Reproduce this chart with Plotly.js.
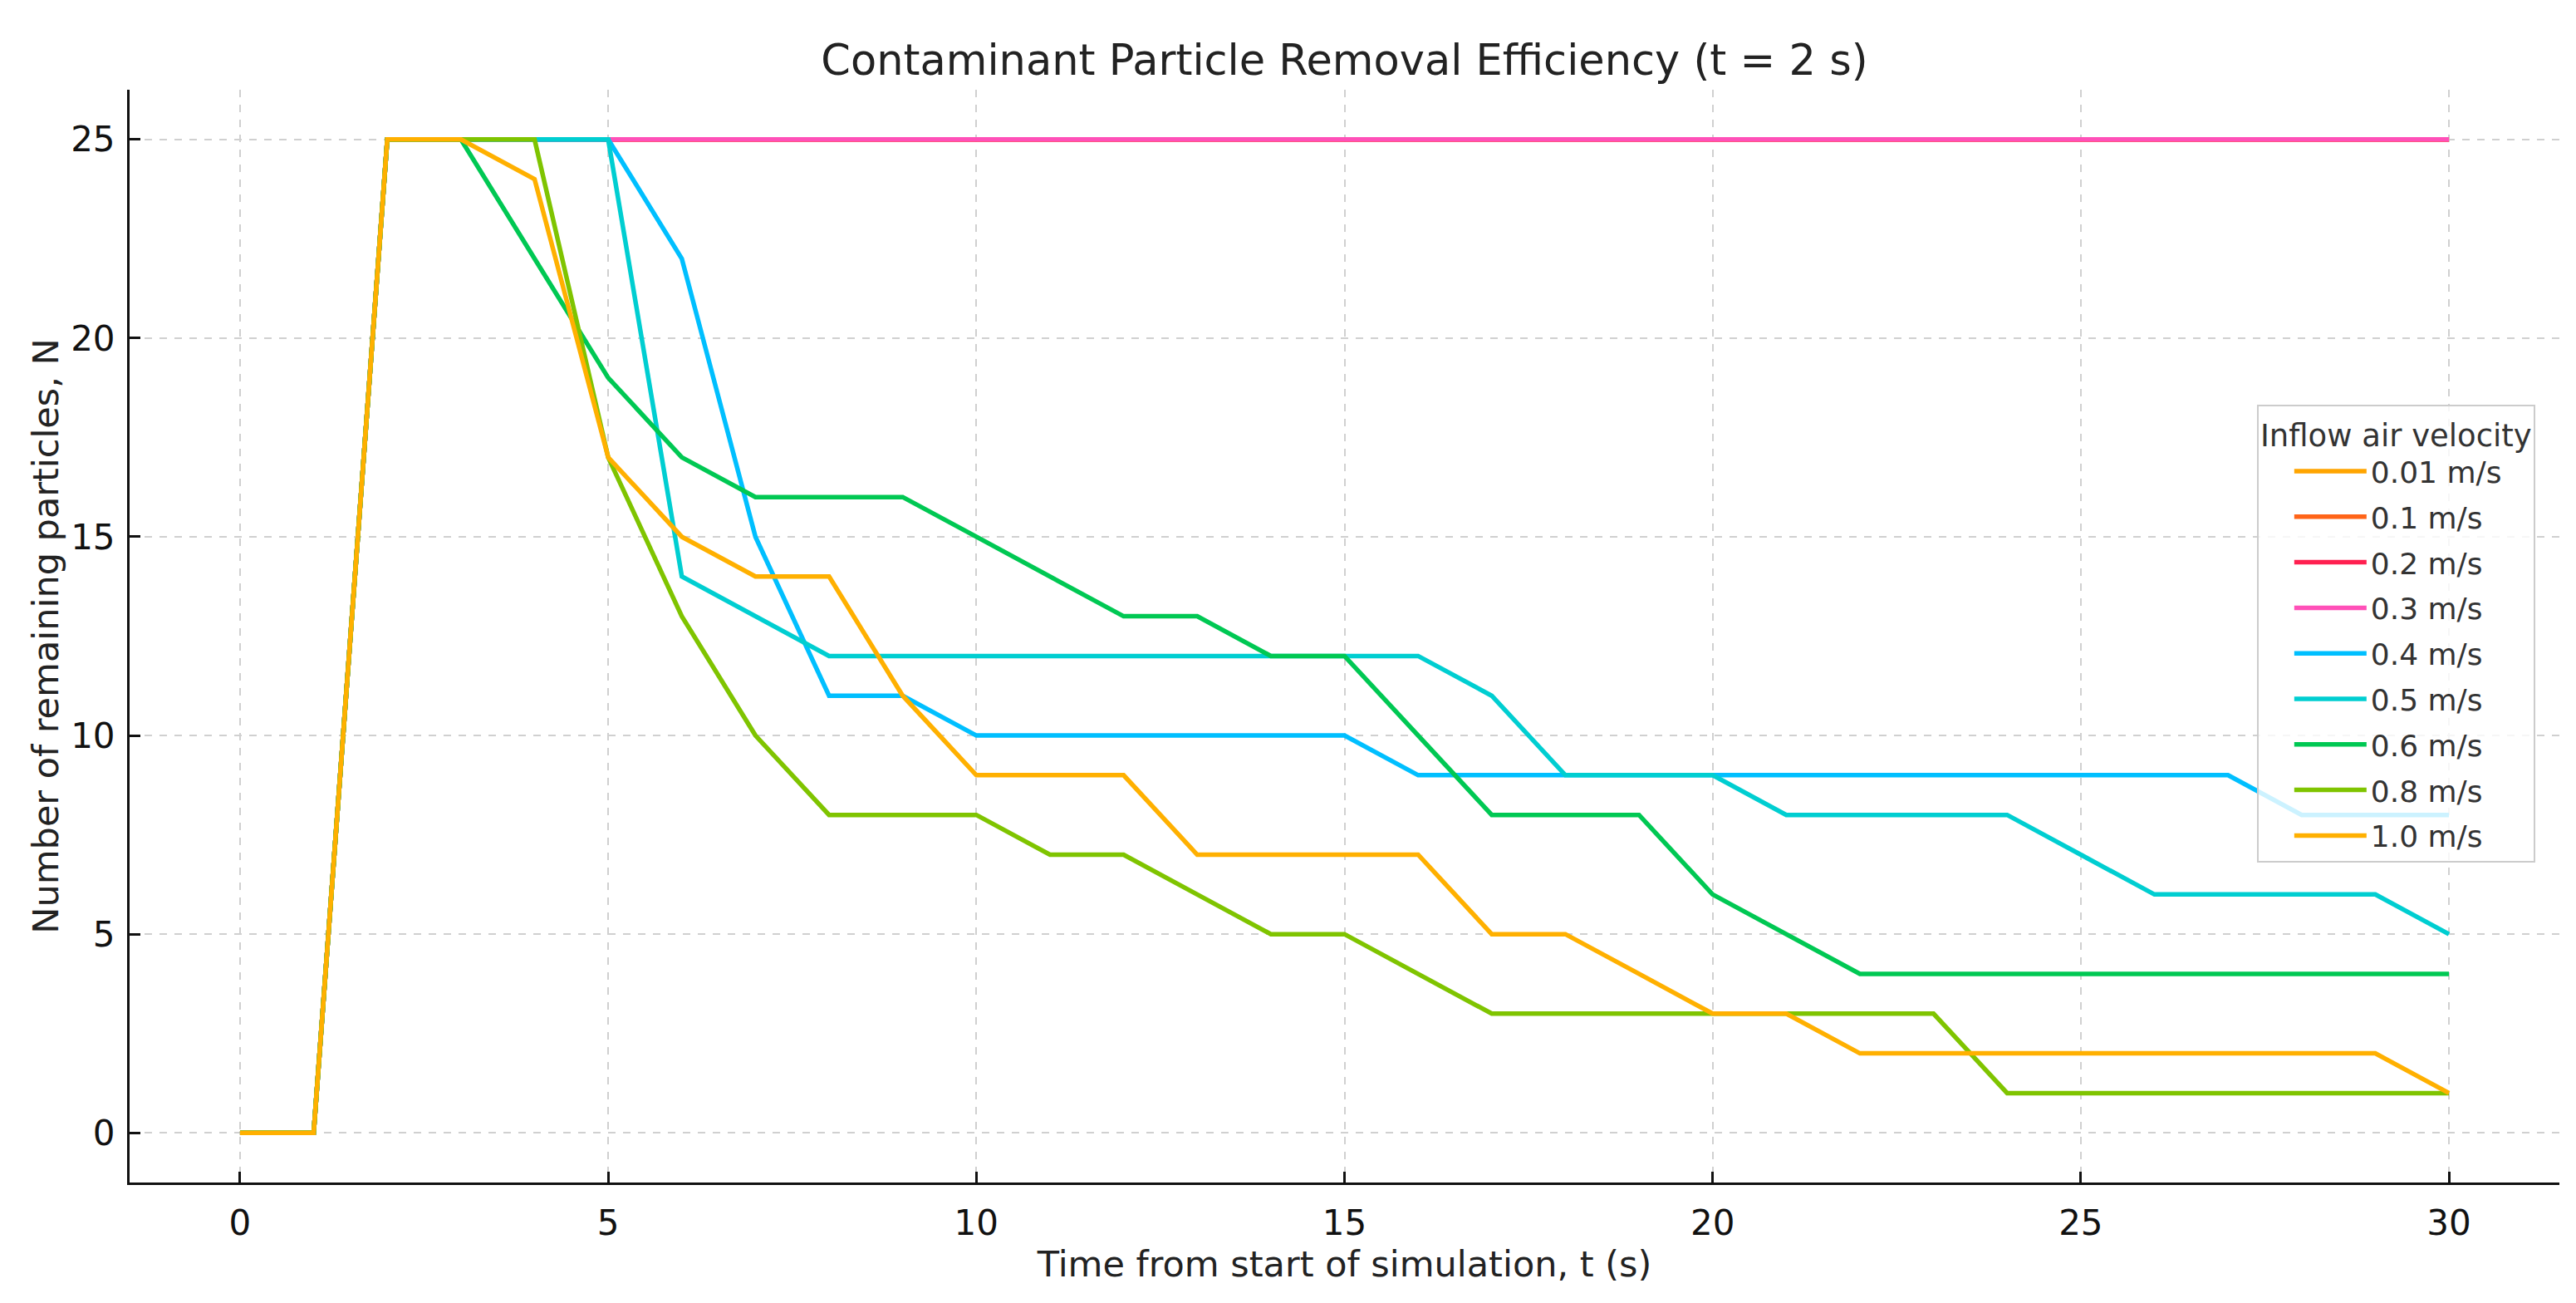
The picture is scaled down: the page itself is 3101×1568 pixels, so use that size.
<!DOCTYPE html>
<html>
<head>
<meta charset="utf-8">
<script src="https://cdn.plot.ly/plotly-3.0.1.min.js"></script>
<style>html,body{margin:0;padding:0;background:#fff;}#chart{width:3101px;height:1568px;}</style>
</head>
<body>
<div id="chart"></div>
<script>
// Time axis (s)
const time = [0,1,2,3,4,5,6,7,8,9,10,11,12,13,14,15,16,17,18,19,20,21,22,23,24,25,26,27,28,29,30];

// Remaining particles N per inflow velocity
const v001 = [0,0,25,25,25,25,25,25,25,25,25,25,25,25,25,25,25,25,25,25,25,25,25,25,25,25,25,25,25,25,25];
const v01  = [0,0,25,25,25,25,25,25,25,25,25,25,25,25,25,25,25,25,25,25,25,25,25,25,25,25,25,25,25,25,25];
const v02  = [0,0,25,25,25,25,25,25,25,25,25,25,25,25,25,25,25,25,25,25,25,25,25,25,25,25,25,25,25,25,25];
const v03  = [0,0,25,25,25,25,25,25,25,25,25,25,25,25,25,25,25,25,25,25,25,25,25,25,25,25,25,25,25,25,25];
const v04  = [0,0,25,25,25,25,22,15,11,11,10,10,10,10,10,10,9,9,9,9,9,9,9,9,9,9,9,9,8,8,8];
const v05  = [0,0,25,25,25,25,14,13,12,12,12,12,12,12,12,12,12,11,9,9,9,8,8,8,8,7,6,6,6,6,5];
const v06  = [0,0,25,25,22,19,17,16,16,16,15,14,13,13,12,12,10,8,8,8,6,5,4,4,4,4,4,4,4,4,4];
const v08  = [0,0,25,25,25,17,13,10,8,8,8,7,7,6,5,5,4,3,3,3,3,3,3,3,1,1,1,1,1,1,1];
const v10  = [0,0,25,25,24,17,15,14,14,11,9,9,9,7,7,7,7,5,5,4,3,3,2,2,2,2,2,2,2,2,1];

const labels = ["0.01 m/s","0.1 m/s","0.2 m/s","0.3 m/s","0.4 m/s","0.5 m/s","0.6 m/s","0.8 m/s","1.0 m/s"];
const series = [v001, v01, v02, v03, v04, v05, v06, v08, v10];
const colors = ["#FFA500","#FF6418","#FF2050","#FF50B8","#00BFFF","#00CED1","#00C853","#7FC400","#FFB000"];

const xTicks = [0,5,10,15,20,25,30];
const yTicks = [0,5,10,15,20,25];

const traces = series.map((s, i) => ({
  x: time, y: s, type: "scatter", mode: "lines", name: labels[i],
  legendgroup: "g" + i,
  line: {color: colors[i], width: 5.5}
}));

const axisCommon = {
  showline: true, linecolor: "#111", linewidth: 3, mirror: false,
  ticks: "inside", ticklen: 13, tickwidth: 3, tickcolor: "#111",
  showgrid: true, gridcolor: "#d0d0d0", gridwidth: 2, griddash: "dash",
  zeroline: false, tickfont: {family: "DejaVu Sans", size: 42, color: "#111"},
  automargin: false
};

const layout = {
  width: 3101, height: 1568,
  paper_bgcolor: "#ffffff", plot_bgcolor: "#ffffff",
  margin: {l: 156, r: 20, t: 108, b: 145},
  font: {family: "DejaVu Sans", color: "#222"},
  title: {text: "Contaminant Particle Removal Efficiency (t = 2 s)",
          font: {family: "DejaVu Sans", size: 51, color: "#222"},
          x: 0.5, xref: "paper", xanchor: "center",
          y: 1 - 72/1568, yref: "container", yanchor: "middle"},
  xaxis: Object.assign({}, axisCommon, {
    range: [-1.5, 31.5], tickvals: xTicks, ticktext: xTicks.map(String),
    ticklabelstandoff: 10,
    title: {text: "Time from start of simulation, t (s)", font: {family: "DejaVu Sans", size: 43, color: "#222"}, standoff: 0}
  }),
  yaxis: Object.assign({}, axisCommon, {
    range: [-1.25, 26.25], tickvals: yTicks, ticktext: yTicks.map(String),
    ticklabelstandoff: 6,
    title: {text: "Number of remaining particles, N", font: {family: "DejaVu Sans", size: 43, color: "#222"}, standoff: 2}
  }),
  showlegend: true,
  legend: {
    x: 0.8755, y: 0.7118, xanchor: "left", yanchor: "top",
    xref: "paper", yref: "paper",
    bgcolor: "rgba(255,255,255,0.8)", bordercolor: "#cccccc", borderwidth: 2,
    font: {family: "DejaVu Sans", size: 36, color: "#333"},
    title: {text: "Inflow air velocity", side: "top center", font: {family: "DejaVu Sans", size: 37, color: "#333"}},
    itemwidth: 87, indentation: 38, tracegroupgap: 5
  }
};

Plotly.newPlot("chart", traces, layout, {displayModeBar: false, staticPlot: true});
</script>
</body>
</html>
